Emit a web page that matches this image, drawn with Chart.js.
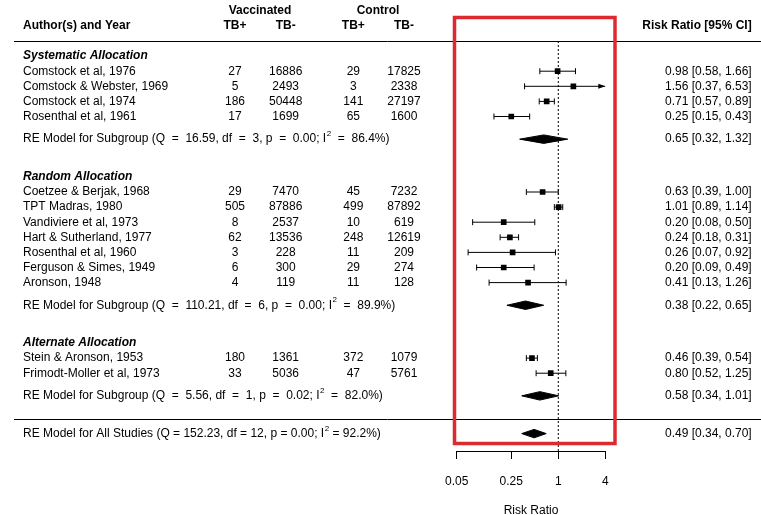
<!DOCTYPE html>
<html>
<head>
<meta charset="utf-8">
<script src="https://cdn.jsdelivr.net/npm/chart.js@4.4.0/dist/chart.umd.min.js"></script>
<style>
  html, body { margin: 0; padding: 0; background: #fff; }
  canvas { display: block; }
</style>
</head>
<body>
<canvas id="forest" width="761" height="515"></canvas>
<script>
// study data (BCG vaccine trials)
const STUDIES = ['Comstock et al, 1976', 'Comstock & Webster, 1969', 'Comstock et al, 1974', 'Rosenthal et al, 1961',
  'Coetzee & Berjak, 1968', 'TPT Madras, 1980', 'Vandiviere et al, 1973', 'Hart & Sutherland, 1977',
  'Rosenthal et al, 1960', 'Ferguson & Simes, 1949', 'Aronson, 1948',
  'Stein & Aronson, 1953', 'Frimodt-Moller et al, 1973'];
const ROWS = [23, 22, 21, 20, 15, 14, 13, 12, 11, 10, 9, 4, 3];
const VAC_POS = [27, 5, 186, 17, 29, 505, 8, 62, 3, 6, 4, 180, 33];
const VAC_NEG = [16886, 2493, 50448, 1699, 7470, 87886, 2537, 13536, 228, 300, 119, 1361, 5036];
const CTL_POS = [29, 3, 141, 65, 45, 499, 10, 248, 11, 29, 11, 372, 47];
const CTL_NEG = [17825, 2338, 27197, 1600, 7232, 87892, 619, 12619, 209, 274, 128, 1079, 5761];
const RR = [0.98, 1.56, 0.71, 0.25, 0.63, 1.01, 0.20, 0.24, 0.26, 0.20, 0.41, 0.46, 0.80];
const LO = [0.58, 0.37, 0.57, 0.15, 0.39, 0.89, 0.08, 0.18, 0.07, 0.09, 0.13, 0.39, 0.52];
const HI = [1.66, 6.53, 0.89, 0.43, 1.00, 1.14, 0.50, 0.31, 0.92, 0.49, 1.26, 0.54, 1.25];

const GROUPS = ['Systematic Allocation', 'Random Allocation', 'Alternate Allocation'];
const GROUP_ROWS = [24, 16, 5];

const MODEL_LABELS = [
  'RE Model for Subgroup (Q  =  16.59, df  =  3, p  =  0.00; I^2  =  86.4%)',
  'RE Model for Subgroup (Q  =  110.21, df  =  6, p  =  0.00; I^2  =  89.9%)',
  'RE Model for Subgroup (Q  =  5.56, df  =  1, p  =  0.02; I^2  =  82.0%)',
  'RE Model for All Studies (Q = 152.23, df = 12, p = 0.00; I^2 = 92.2%)'];
const MODEL_ROWS = [18.5, 7.5, 1.5, -1];
const MODEL_RR = [0.65, 0.38, 0.58, 0.49];
const MODEL_LO = [0.32, 0.22, 0.34, 0.34];
const MODEL_HI = [1.32, 0.65, 1.01, 0.70];

const X_TICKS = [0.05, 0.25, 1, 4];
const X_MIN = 0.05, X_MAX = 4;
const Y_MIN = -2.152, Y_MAX = 27.715;

// layout
const FONT = "'Liberation Sans', Arial, sans-serif";
const COL = { author: 23, vacPos: 235, vacNeg: 285.7, ctlPos: 353.3, ctlNeg: 404, est: 751.7, vacHead: 260, ctlHead: 378 };
const DIAMOND_H = 0.28;
const RED = '#dc2a30';

const fmt2 = v => v.toFixed(2);
const ciText = (e, l, h) => `${fmt2(e)} [${fmt2(l)}, ${fmt2(h)}]`;

const datasets = [];

// squares
datasets.push({
  data: RR.map((v, i) => ({ x: v, y: ROWS[i] })),
  pointStyle: 'rect', pointRadius: 4, pointBackgroundColor: '#000', pointBorderWidth: 0
});

// CI lines with end caps
RR.forEach((v, i) => {
  const cut = HI[i] > X_MAX;
  datasets.push({
    data: [{ x: LO[i], y: ROWS[i] }, { x: Math.min(HI[i], X_MAX), y: ROWS[i] }],
    showLine: true, borderColor: '#000', borderWidth: 1,
    pointStyle: 'line', pointRotation: 90, pointRadius: [3, cut ? 0 : 3],
    pointBorderColor: '#000', pointBorderWidth: 1
  });
});

// summary diamonds
MODEL_RR.forEach((v, i) => {
  const r = MODEL_ROWS[i];
  datasets.push({
    data: [{ x: MODEL_LO[i], y: r }, { x: v, y: r + DIAMOND_H }, { x: MODEL_HI[i], y: r },
      { x: v, y: r - DIAMOND_H }, { x: MODEL_LO[i], y: r }],
    showLine: true, fill: 'shape', backgroundColor: '#000', borderColor: '#000', borderWidth: 1,
    pointRadius: 0, tension: 0
  });
});

// reference line at 1
datasets.push({
  data: [{ x: 1, y: 25 }, { x: 1, y: Y_MIN }],
  showLine: true, borderColor: '#000', borderWidth: 1, borderDash: [2, 2], pointRadius: 0
});

function drawSup(ctx, text, x, y) {
  // left aligned text, "^2" drawn as superscript
  const parts = text.split('^2');
  ctx.textAlign = 'left';
  ctx.fillText(parts[0], x, y);
  let cx = x + ctx.measureText(parts[0]).width;
  const base = ctx.font;
  ctx.font = `8px ${FONT}`;
  ctx.fillText('2', cx + 0.5, y - 5);
  cx += ctx.measureText('2').width + 0.5;
  ctx.font = base;
  ctx.fillText(parts[1], cx, y);
}

const forestText = {
  id: 'forestText',
  afterDraw(chart) {
    const { ctx, scales: { x, y } } = chart;
    ctx.save();
    ctx.fillStyle = '#000';
    ctx.textBaseline = 'middle';

    // headers
    ctx.font = `bold 12px ${FONT}`;
    ctx.textAlign = 'center';
    ctx.fillText('Vaccinated', COL.vacHead, y.getPixelForValue(27));
    ctx.fillText('Control', COL.ctlHead, y.getPixelForValue(27));
    const hy = y.getPixelForValue(26);
    ctx.fillText('TB+', COL.vacPos, hy);
    ctx.fillText('TB-', COL.vacNeg, hy);
    ctx.fillText('TB+', COL.ctlPos, hy);
    ctx.fillText('TB-', COL.ctlNeg, hy);
    ctx.textAlign = 'left';
    ctx.fillText('Author(s) and Year', COL.author, hy);
    ctx.textAlign = 'right';
    ctx.fillText('Risk Ratio [95% CI]', COL.est, hy);

    // group headings
    ctx.font = `italic bold 12px ${FONT}`;
    ctx.textAlign = 'left';
    GROUPS.forEach((g, i) => ctx.fillText(g, COL.author, y.getPixelForValue(GROUP_ROWS[i])));

    // study rows
    ctx.font = `12px ${FONT}`;
    STUDIES.forEach((s, i) => {
      const py = y.getPixelForValue(ROWS[i]);
      ctx.textAlign = 'left';
      ctx.fillText(s, COL.author, py);
      ctx.textAlign = 'center';
      ctx.fillText(VAC_POS[i], COL.vacPos, py);
      ctx.fillText(VAC_NEG[i], COL.vacNeg, py);
      ctx.fillText(CTL_POS[i], COL.ctlPos, py);
      ctx.fillText(CTL_NEG[i], COL.ctlNeg, py);
      ctx.textAlign = 'right';
      ctx.fillText(ciText(RR[i], LO[i], HI[i]), COL.est, py);
    });

    // model rows
    MODEL_LABELS.forEach((m, i) => {
      const py = y.getPixelForValue(MODEL_ROWS[i]);
      drawSup(ctx, m, COL.author, py);
      ctx.textAlign = 'right';
      ctx.fillText(ciText(MODEL_RR[i], MODEL_LO[i], MODEL_HI[i]), COL.est, py);
    });

    // arrows for truncated intervals
    RR.forEach((v, i) => {
      if (HI[i] <= X_MAX) return;
      const px = x.getPixelForValue(X_MAX), py = y.getPixelForValue(ROWS[i]);
      ctx.beginPath();
      ctx.moveTo(px, py);
      ctx.lineTo(px - 7, py - 2.5);
      ctx.lineTo(px - 7, py + 2.5);
      ctx.closePath();
      ctx.fill();
    });

    // separator lines
    ctx.strokeStyle = '#000';
    ctx.lineWidth = 1;
    [25, 0].forEach(r => {
      const py = Math.round(y.getPixelForValue(r)) + 0.5;
      ctx.beginPath();
      ctx.moveTo(14, py);
      ctx.lineTo(761, py);
      ctx.stroke();
    });

    // red highlight frame
    ctx.strokeStyle = RED;
    ctx.lineWidth = 3.5;
    ctx.strokeRect(454.5, 17.5, 160.5, 426);
    ctx.restore();
  }
};

new Chart(document.getElementById('forest'), {
  type: 'scatter',
  data: { datasets },
  options: {
    responsive: false,
    animation: false,
    events: [],
    layout: { autoPadding: false, padding: { left: 456.7, right: 155.7, top: 0, bottom: 0 } },
    plugins: { legend: { display: false }, tooltip: { enabled: false } },
    scales: {
      x: {
        type: 'logarithmic', min: X_MIN, max: X_MAX,
        afterBuildTicks: s => { s.ticks = X_TICKS.map(v => ({ value: v })); },
        ticks: { color: '#000', font: { family: FONT, size: 12 }, padding: 15.5, autoSkip: false, maxRotation: 0,
          callback: v => String(v) },
        grid: { drawOnChartArea: false, drawTicks: true, tickLength: 8, color: '#000', lineWidth: 1 },
        border: { display: true, color: '#000', width: 1 },
        title: { display: true, text: 'Risk Ratio', color: '#000',
          font: { family: FONT, size: 12, lineHeight: 0.8 }, padding: { top: 1, bottom: 0 } }
      },
      y: { type: 'linear', display: false, min: Y_MIN, max: Y_MAX }
    }
  },
  plugins: [forestText]
});
</script>
</body>
</html>
